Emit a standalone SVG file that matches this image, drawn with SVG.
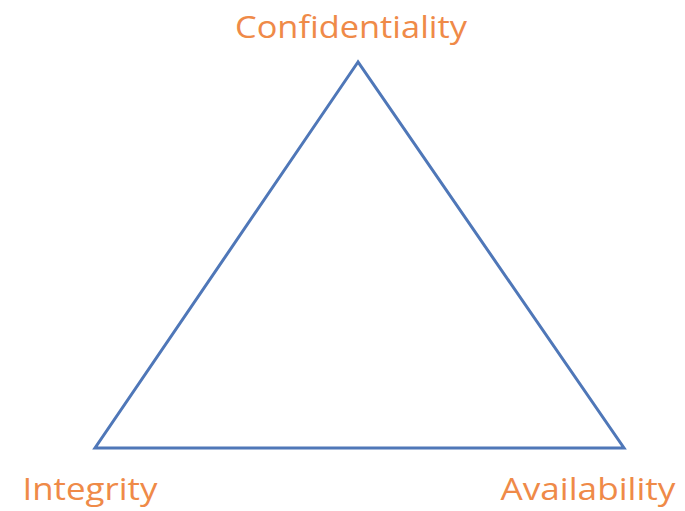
<svg xmlns="http://www.w3.org/2000/svg" width="685" height="511" viewBox="0 0 685 511">
<style>
.lbl{font-family:"Open Sans","Noto Sans","Liberation Sans",sans-serif;font-size:31px;fill:#ef8a48;text-anchor:middle}
.edge{fill:none;stroke:#4f77b8;stroke-width:3;stroke-linejoin:miter}
</style>
<rect width="685" height="511" fill="#ffffff"/>
<g id="connectors">
<polygon class="edge" points="358,62 95,448 624,448"/>
</g>
<g id="confidentiality"><text class="lbl" x="351" y="38" textLength="232" lengthAdjust="spacingAndGlyphs">Confidentiality</text></g>
<g id="integrity"><text class="lbl" x="90" y="500" textLength="135" lengthAdjust="spacingAndGlyphs">Integrity</text></g>
<g id="availability"><text class="lbl" x="588" y="500" textLength="175" lengthAdjust="spacingAndGlyphs">Availability</text></g>
</svg>
